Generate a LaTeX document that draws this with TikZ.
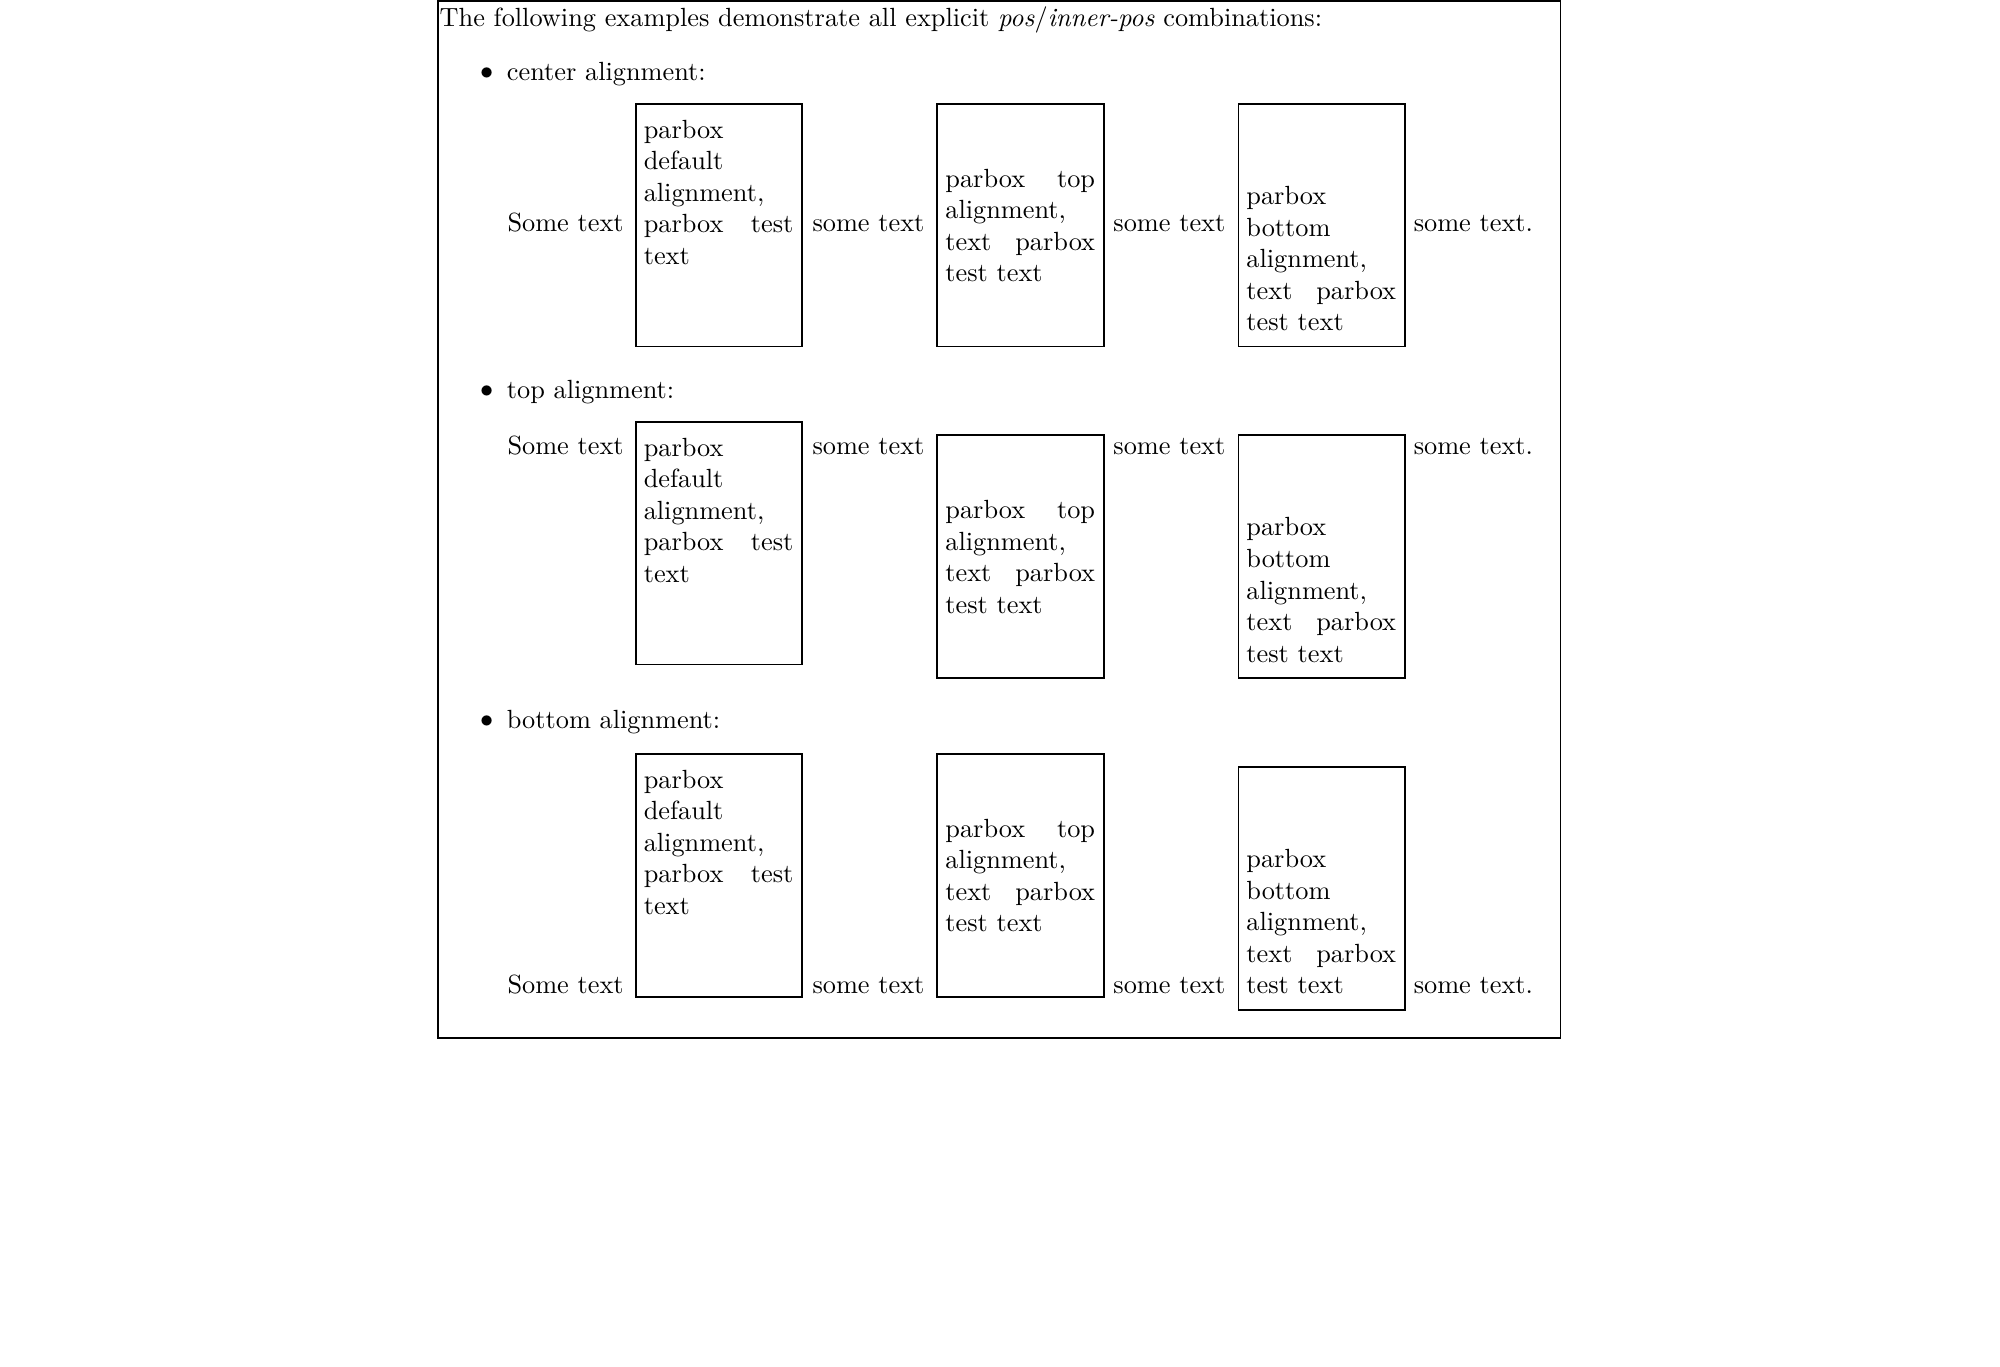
\documentclass[tikz,border=0pt]{standalone}
\usetikzlibrary{calc}
\tolerance=10000
\hyphenpenalty=10000
\exhyphenpenalty=10000
\begin{document}
\begin{tikzpicture}[x=0.485pt, y=-0.485pt]
	\tikzstyle{word}=[inner sep=0pt, anchor=base west]
	\tikzstyle{dot}=[inner sep=0pt, anchor=center]
	\tikzstyle{pbox}=[draw, line width=0.7pt, inner sep=0pt, anchor=north west,
	    minimum width=63.3pt, minimum height=92.2pt]
	\tikzstyle{ptext}=[inner sep=0pt, anchor=base west, text width=2cm, align=justify]

	\useasboundingbox (0, 0) rectangle (1568, 1071);
	\draw[line width=0.7pt] (343.3, 0.6) rectangle (1223.4, 813.6);

	\node[word] (title) at (344.3, 20.4) {The following examples demonstrate all explicit \emph{pos}/\emph{inner-pos} combinations:};

	% center alignment
	\node[dot] (d1) at (381.6, 57.5) {$\bullet$};
	\node[word] (i1) at (397, 63.3) {center alignment:};

	\node[word] (s11) at (397.5, 181.1) {Some text};
	\node[pbox] (p11) at (497.7, 80.8) {};
	\node[ptext] (t11) at ($(p11.north west)+(6.6, 27.4)$) {parbox default alignment, parbox test text};
	\node[word] (s12) at (636.6, 181.1) {some text};
	\node[pbox] (p12) at (734.2, 80.8) {};
	\node[ptext] (t12) at ($(p12.north west)+(6.6, 65.9)$) {parbox top alignment, text parbox test text};
	\node[word] (s13) at (872.5, 181.1) {some text};
	\node[pbox] (p13) at (970.2, 80.8) {};
	\node[ptext] (t13) at ($(p13.north west)+(6.6, 79.6)$) {parbox bottom alignment, text parbox test text};
	\node[word] (s14) at (1108, 181.1) {some text.};

	% top alignment
	\node[dot] (d2) at (381.6, 306.8) {$\bullet$};
	\node[word] (i2) at (397, 312.6) {top alignment:};

	\node[word] (s21) at (397.5, 356.7) {Some text};
	\node[pbox] (p21) at (497.7, 330.1) {};
	\node[ptext] (t21) at ($(p21.north west)+(6.6, 27.4)$) {parbox default alignment, parbox test text};
	\node[word] (s22) at (636.6, 356.7) {some text};
	\node[pbox] (p22) at (734.2, 340.6) {};
	\node[ptext] (t22) at ($(p22.north west)+(6.6, 65.9)$) {parbox top alignment, text parbox test text};
	\node[word] (s23) at (872.5, 356.7) {some text};
	\node[pbox] (p23) at (970.2, 340.6) {};
	\node[ptext] (t23) at ($(p23.north west)+(6.6, 79.6)$) {parbox bottom alignment, text parbox test text};
	\node[word] (s24) at (1108, 356.7) {some text.};

	% bottom alignment
	\node[dot] (d3) at (381.6, 565.5) {$\bullet$};
	\node[word] (i3) at (397, 571.3) {bottom alignment:};

	\node[word] (s31) at (397.5, 778.8) {Some text};
	\node[pbox] (p31) at (497.7, 590.5) {};
	\node[ptext] (t31) at ($(p31.north west)+(6.6, 27.4)$) {parbox default alignment, parbox test text};
	\node[word] (s32) at (636.6, 778.8) {some text};
	\node[pbox] (p32) at (734.2, 590.5) {};
	\node[ptext] (t32) at ($(p32.north west)+(6.6, 65.9)$) {parbox top alignment, text parbox test text};
	\node[word] (s33) at (872.5, 778.8) {some text};
	\node[pbox] (p33) at (970.2, 600.7) {};
	\node[ptext] (t33) at ($(p33.north west)+(6.6, 79.6)$) {parbox bottom alignment, text parbox test text};
	\node[word] (s34) at (1108, 778.8) {some text.};
\end{tikzpicture}
\end{document}
